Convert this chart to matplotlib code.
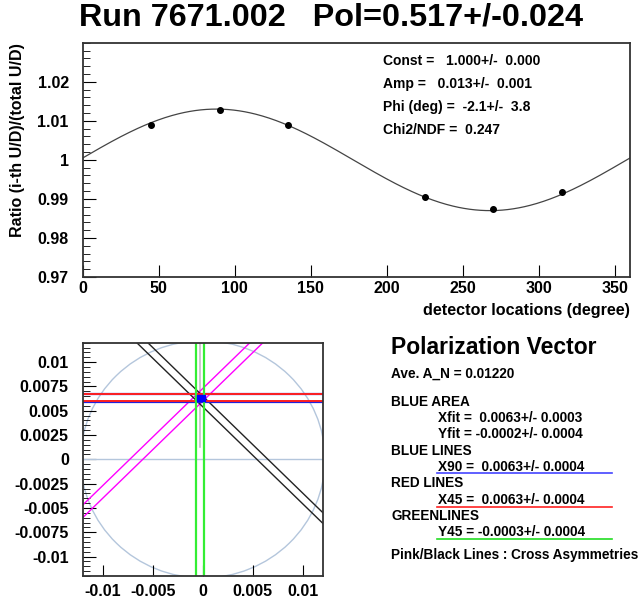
import numpy as np
import matplotlib
matplotlib.use('Agg')
import matplotlib.pyplot as plt
from matplotlib.ticker import MultipleLocator, FixedLocator, FuncFormatter
from matplotlib.patches import Circle, Rectangle

plt.rcParams['font.family'] = ['Liberation Sans', 'DejaVu Sans']
plt.rcParams['font.weight'] = 'bold'
plt.rcParams['axes.unicode_minus'] = False

W, H = 642, 598

# detector data
det_angle = [45, 90, 135, 225, 270, 315]
ratio = [1.0088, 1.0128, 1.0090, 0.9905, 0.9875, 0.9918]
ratio_err = [0.0007, 0.0007, 0.0007, 0.0007, 0.0007, 0.0007]

# fit result
fit_const = 1.000
fit_amp = 0.013
fit_phi = -2.1

# polarization vector results
ave_an = 0.01220
xfit, xfit_err = 0.0063, 0.0003
yfit, yfit_err = -0.0002, 0.0004
x90, x90_err = 0.0063, 0.0004
x45, x45_err = 0.0063, 0.0004
y45, y45_err = -0.0003, 0.0004
pink_icpt = [0.0060, 0.0073]
black_icpt = [0.0054, 0.0065]
blue_lines = [0.00585, 0.0067]
red_lines = [0.00602, 0.0067]
green_lines = [y45 - y45_err, y45 + y45_err]
gray_x = -0.0003
gray_y0 = 0.0013


def fx(x):
    return x / W


def fy(y):
    return 1 - y / H


fmt = FuncFormatter(lambda v, p: '%g' % round(v, 6))

fig = plt.figure(figsize=(W / 100, H / 100), dpi=100)

# ---------- top plot ----------
ax1 = fig.add_axes([fx(82.7), fy(277), (630 - 82.7) / W, (277 - 42.7) / H])
xx = np.linspace(0, 360, 400)
ax1.plot(xx, fit_const + fit_amp * np.sin(np.radians(xx - fit_phi)), color='#444444', lw=0.9)
ax1.errorbar(det_angle, ratio, yerr=ratio_err, fmt='o', color='black', ms=4, elinewidth=1, capsize=0)
ax1.set_xlim(0, 360)
ax1.set_ylim(0.97, 1.03)
ax1.xaxis.set_major_locator(MultipleLocator(50))
ax1.yaxis.set_major_locator(FixedLocator([0.97, 0.98, 0.99, 1.0, 1.01, 1.02]))
ax1.yaxis.set_minor_locator(MultipleLocator(0.002))
ax1.xaxis.set_major_formatter(fmt)
ax1.yaxis.set_major_formatter(fmt)
ax1.tick_params(axis='both', which='both', direction='in', labelsize=11.5)
ax1.tick_params(axis='y', which='major', length=9, pad=10)
ax1.tick_params(axis='y', which='minor', length=5)
ax1.tick_params(axis='x', which='major', length=9, pad=3)
for s in ax1.spines.values():
    s.set_color('#333333')
    s.set_linewidth(1.3)

fig.text(fx(331), fy(18), 'Run 7671.002   Pol=0.517+/-0.024', fontsize=23.3,
         fontweight='bold', ha='center', va='center')
fig.text(fx(18), fy(43), 'Ratio (i-th U/D)/(total U/D)', fontsize=11.5, fontweight='bold',
         rotation=90, ha='center', va='top')
fig.text(fx(630), fy(310), 'detector locations (degree)', fontsize=11.6, fontweight='bold',
         ha='right', va='center')

stats = ['Const =   1.000+/-  0.000', 'Amp =   0.013+/-  0.001',
         'Phi (deg) =  -2.1+/-  3.8', 'Chi2/NDF =  0.247']
for i, t in enumerate(stats):
    fig.text(fx(383), fy(61 + 23 * i), t, fontsize=10, fontweight='bold', ha='left', va='center')

# ---------- polarization vector plot ----------
ax2 = fig.add_axes([fx(82.7), fy(576), (323 - 82.7) / W, (576 - 342.7) / H])
lim = 0.012
ax2.set_xlim(-lim, lim)
ax2.set_ylim(-lim, lim)
ax2.add_patch(Circle((0, 0), ave_an, fill=False, ec='#b4c6dc', lw=1.0))
ax2.axhline(0, color='#b4c6dc', lw=1.0)
ax2.plot([gray_x, gray_x], [gray_y0, lim], color='#c0c0c0', lw=1.2)
xs = np.array([-lim, lim])
for c in pink_icpt:
    ax2.plot(xs, xs + c, color='#ff00ff', lw=1.0)
for c in black_icpt:
    ax2.plot(xs, -xs + c, color='#222222', lw=1.0)
for yv in blue_lines:
    ax2.axhline(yv, color='#2222dd', lw=1.6)
for yv in red_lines:
    ax2.axhline(yv, color='#ff2020', lw=1.4)
for xv in green_lines:
    ax2.axvline(xv, color='#33ee33', lw=1.6)
ax2.add_patch(Rectangle((yfit - yfit_err, xfit - xfit_err), 2 * yfit_err, 2 * xfit_err,
                        color='#0000ff', zorder=5))
ax2.xaxis.set_major_locator(FixedLocator([-0.01, -0.005, 0, 0.005, 0.01]))
ax2.yaxis.set_major_locator(MultipleLocator(0.0025))
ax2.yaxis.set_minor_locator(MultipleLocator(0.0005))
ax2.xaxis.set_major_formatter(fmt)
ax2.yaxis.set_major_formatter(fmt)
ax2.tick_params(axis='both', which='both', direction='in', labelsize=11.5)
ax2.tick_params(axis='y', which='major', length=9, pad=10)
ax2.tick_params(axis='y', which='minor', length=5)
ax2.tick_params(axis='x', which='major', length=8, pad=6)
for s in ax2.spines.values():
    s.set_color('#333333')
    s.set_linewidth(1.3)

# ---------- legend text ----------
fig.text(fx(391), fy(347), 'Polarization Vector', fontsize=16.5, fontweight='bold', ha='left', va='center')
fs = 9.8
fig.text(fx(391), fy(374), 'Ave. A_N = %.5f' % ave_an, fontsize=fs, fontweight='bold', va='center')
fig.text(fx(391), fy(401.7), 'BLUE AREA', fontsize=fs, fontweight='bold', va='center')
fig.text(fx(438), fy(418.3), 'Xfit =  %.4f+/- %.4f' % (xfit, xfit_err), fontsize=fs, fontweight='bold', va='center')
fig.text(fx(438), fy(434.3), 'Yfit = %.4f+/- %.4f' % (yfit, yfit_err), fontsize=fs, fontweight='bold', va='center')
fig.text(fx(391), fy(450.7), 'BLUE LINES', fontsize=fs, fontweight='bold', va='center')
fig.text(fx(438), fy(466.7), 'X90 =  %.4f+/- %.4f' % (x90, x90_err), fontsize=fs, fontweight='bold', va='center')
fig.text(fx(391), fy(483.3), 'RED LINES', fontsize=fs, fontweight='bold', va='center')
fig.text(fx(438), fy(500), 'X45 =  %.4f+/- %.4f' % (x45, x45_err), fontsize=fs, fontweight='bold', va='center')
fig.text(fx(391), fy(515.7), 'GREENLINES', fontsize=fs, fontweight='bold', va='center')
fig.text(fx(438), fy(531.7), 'Y45 = %.4f+/- %.4f' % (y45, y45_err), fontsize=fs, fontweight='bold', va='center')
fig.text(fx(391), fy(555), 'Pink/Black Lines : Cross Asymmetries', fontsize=fs, fontweight='bold', va='center')

for yy, col in [(473.3, '#4444ff'), (506.7, '#ff2222'), (539.3, '#22dd22')]:
    fig.add_artist(plt.Line2D([fx(437), fx(612)], [fy(yy), fy(yy)], color=col, lw=1.2))

fig.savefig('out.png', dpi=100)
